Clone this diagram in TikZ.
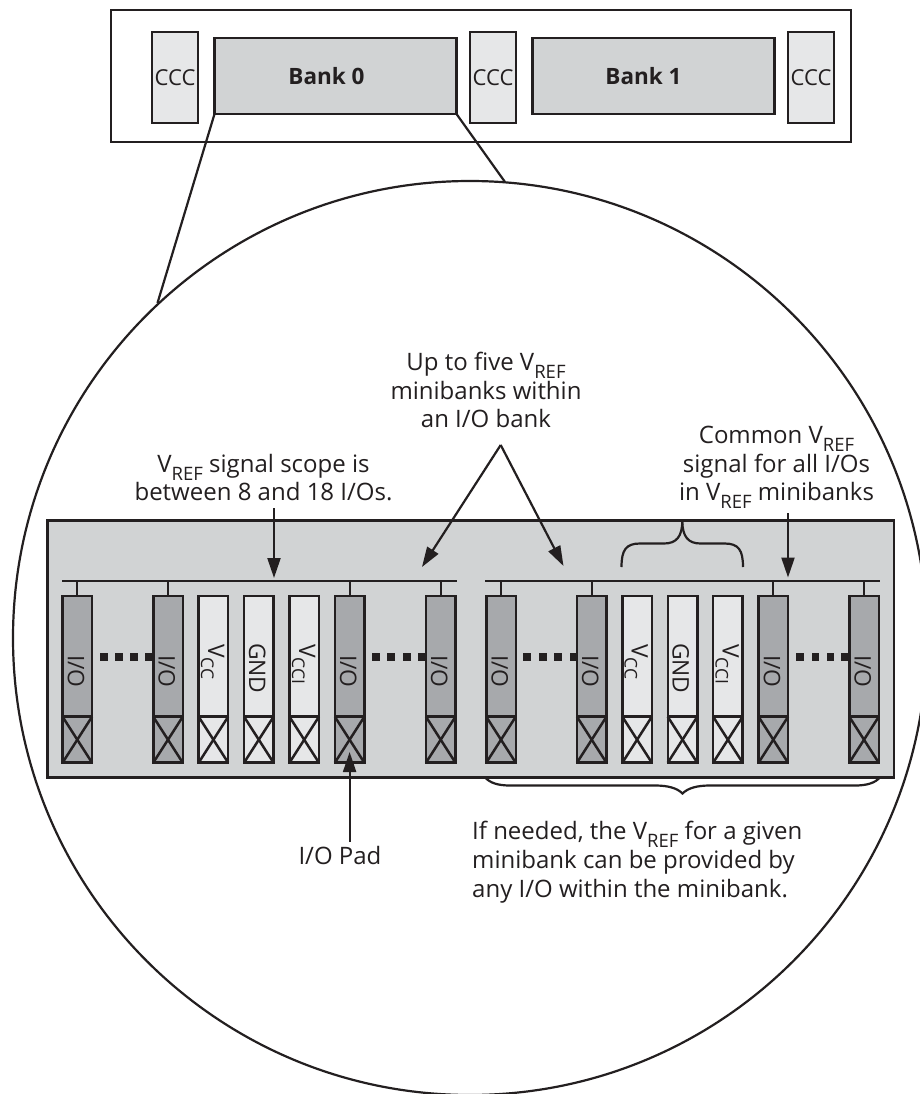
\documentclass[tikz,border=0pt]{standalone}
\usepackage{fontspec}
\setmainfont{Open Sans}
\usetikzlibrary{arrows.meta}
\definecolor{ink}{HTML}{231F20}
\definecolor{panelgray}{HTML}{D1D3D4}
\definecolor{lightgray}{HTML}{E6E7E8}
\definecolor{darkgray}{HTML}{A7A9AC}
\newcommand{\Vref}{V\smash{\raisebox{-0.34em}{\fontsize{18.5}{18.5}\selectfont REF}}}
\newcommand{\Vsub}[1]{V\raisebox{-0.3em}{\fontsize{17.5}{17.5}\selectfont #1}}
\tikzset{
  boxbase/.style={draw=ink,line width=2.5pt,inner sep=0pt,outer sep=0pt,text=ink,line join=miter},
  wire/.style={draw=ink,line width=2.2pt},
  arr/.style={draw=ink,line width=2.2pt,-{Triangle[length=20pt,width=13pt]}},
  captext/.style={text=ink,font=\fontsize{24}{28.7}\selectfont,align=center,inner sep=0pt},
  vlab/.style={text=ink,font=\fontsize{22.8}{24}\selectfont,inner sep=0pt,rotate=-90,anchor=base west},
  ccc/.style={boxbase,fill=lightgray,minimum width=46pt,minimum height=91pt,font=\fontsize{22}{24}\selectfont},
  bank/.style={boxbase,fill=panelgray,minimum width=242pt,minimum height=76pt,font=\bfseries\fontsize{22.5}{24}\selectfont},
  iodark/.style={boxbase,fill=darkgray,minimum width=29.5pt,minimum height=120.7pt},
  iolight/.style={boxbase,fill=lightgray,minimum width=29.5pt,minimum height=120.7pt},
  paddark/.style={boxbase,fill=darkgray,minimum width=29.5pt,minimum height=46pt},
  padlight/.style={boxbase,fill=lightgray,minimum width=29.5pt,minimum height=46pt},
  dotsq/.style={fill=ink,draw=none,minimum size=7.6pt,inner sep=0pt,outer sep=0pt},
}
\begin{document}
\begin{tikzpicture}[x=1pt,y=-1pt]
\useasboundingbox (0,0) rectangle (920,1094);
\clip (0,0) rectangle (920,1094);
\fill[white] (0,0) rectangle (920,1094);

% magnifier circle and its guide lines
\node[draw=ink,line width=2.2pt,circle,minimum size=914pt,inner sep=0pt,outer sep=0pt] (lens) at (470,638) {};
\coordinate (lensL) at (157.5,303);
\coordinate (lensR) at (505,182);

% top strip
\node[boxbase,minimum width=740pt,minimum height=132pt] (chip) at (481,76) {};
\node[ccc] (ccc1) at (175,77.5) {CCC};
\node[ccc] (ccc2) at (493,77.5) {CCC};
\node[ccc] (ccc3) at (811,77.5) {CCC};
\node[bank] (bank0) at (335.5,76) {\raisebox{-2pt}{Bank 0}\hspace*{18pt}};
\node[bank] (bank1) at (653.5,76) {\raisebox{-2pt}{Bank 1}\hspace*{20pt}};
\draw[wire] (bank0.south west) -- (lensL);
\draw[wire] (bank0.south east) -- (lensR);

% big panel
\node[boxbase,fill=panelgray,minimum width=846.7pt,minimum height=256.6pt] (panel) at (470.65,649) {};

% buses
\coordinate (busLa) at (62,581);
\coordinate (busLb) at (457,581);
\coordinate (busRa) at (485,581);
\coordinate (busRb) at (880,581);
\coordinate (ioy) at (0,655);
\draw[wire] (busLa) -- (busLb);
\draw[wire] (busRa) -- (busRb);

% columns
\foreach \n/\x/\kind in {a/77.3/dark,b/168/dark,c/213.4/light,d/258.8/light,e/304.2/light,f/349.6/dark,g/440.7/dark,
                         h/501/dark,i/591.7/dark,j/637.1/light,k/682.5/light,l/727.9/light,m/773.3/dark,n/864/dark}{
  \node[io\kind] (col\n) at (\x,656.35) {};
  \node[pad\kind] (pad\n) at (\x,739.7) {};
  \draw[boxbase] (pad\n.north west) -- (pad\n.south east);
  \draw[boxbase] (pad\n.north east) -- (pad\n.south west);
}
% stubs
\foreach \n in {a,b,f,g}{ \draw[wire] (col\n.north) -- (col\n.north |- busLa); }
\foreach \n in {h,i,m,n}{ \draw[wire] (col\n.north) -- (col\n.north |- busRa); }

% column labels
\foreach \n/\x in {a/67.8,b/158.5,f/340.1,g/431.2,h/491.5,i/582.2,m/763.8,n/854.5}{
  \node[vlab] (lab\n) at (\x,655) {I/O};
}
\node[vlab] (labc) at (208,644) {\Vsub{CC}};
\node[vlab] (labj) at (631.5,644) {\Vsub{CC}};
\node[vlab] (labd) at (249,643) {GND};
\node[vlab] (labk) at (672.5,643) {GND};
\node[vlab] (labe) at (299,644) {\Vsub{CCI}};
\node[vlab] (labl) at (722.5,644) {\Vsub{CCI}};

% dots
\foreach \n/\x in {p1/104,p2/119,p3/134,p4/149,q1/376,q2/391,q3/407,q4/421.5,
                   r1/527,r2/543,r3/558,r4/573.5,s1/800,s2/815.5,s3/830.5,s4/845}{
  \node[dotsq] (\n) at (\x,657) {};
}

% redraw the I/O edge over the last dot of each run
\draw[boxbase] (colb.north west) -- (colb.south west);
\draw[boxbase] (colg.north west) -- (colg.south west);
\draw[boxbase] (coli.north west) -- (coli.south west);
\draw[boxbase] (coln.north west) -- (coln.south west);

% braces
\draw[wire,line cap=butt] (621.5,567) .. controls (621.5,550) and (626,543.5) .. (640,543.5)
  -- (664,543.5) .. controls (676,543.5) and (682.3,537) .. (682.3,520.7);
\draw[wire,line cap=butt] (743,567) .. controls (743,550) and (738.5,543.5) .. (724.5,543.5)
  -- (700.5,543.5) .. controls (688.5,543.5) and (682.3,537) .. (682.3,520.7);
\draw[wire] (485,777.3) .. controls (490,783) and (498,785.5) .. (510,785.5)
  -- (655,785.5) .. controls (668,785.5) and (677,788) .. (682.5,793.5)
  .. controls (688,788) and (697,785.5) .. (710,785.5)
  -- (855,785.5) .. controls (867,785.5) and (875,783) .. (880,777.3);

% captions and pointers
\node[captext,anchor=center] (tfive) at (486,390) {Up to five \Vref\\minibanks within\\an I/O bank};
\node[captext,anchor=center] (tscope) at (263.5,477.5) {\Vref{} signal scope is\\between 8 and 18 I/Os.};
\node[captext,anchor=center] (tcommon) at (776.5,463.5) {Common \Vref\\signal for all I/Os\\in \Vref{} minibanks};
\node[captext,anchor=base] (tpad) at (340,864) {I/O Pad};
\node[captext,anchor=west,align=left] (tneeded) at (472,862) {If needed, the \Vref{} for a given\\minibank can be provided by\\any I/O within the minibank.};

\coordinate (apex) at (500.7,445);
\coordinate (tipL) at (422,567);
\coordinate (tipR) at (563.5,566);
\coordinate (scopeS) at (274,508);
\coordinate (scopeT) at (274,578);
\coordinate (commS) at (788,513);
\coordinate (commT) at (788,577.5);
\coordinate (padS) at (349.6,842);
\coordinate (padT) at (349.6,752);
\draw[arr] (apex) -- (tipL);
\draw[arr] (apex) -- (tipR);
\draw[arr] (scopeS) -- (scopeT);
\draw[arr] (commS) -- (commT);
\draw[arr] (padS) -- (padT);
\end{tikzpicture}
\end{document}
